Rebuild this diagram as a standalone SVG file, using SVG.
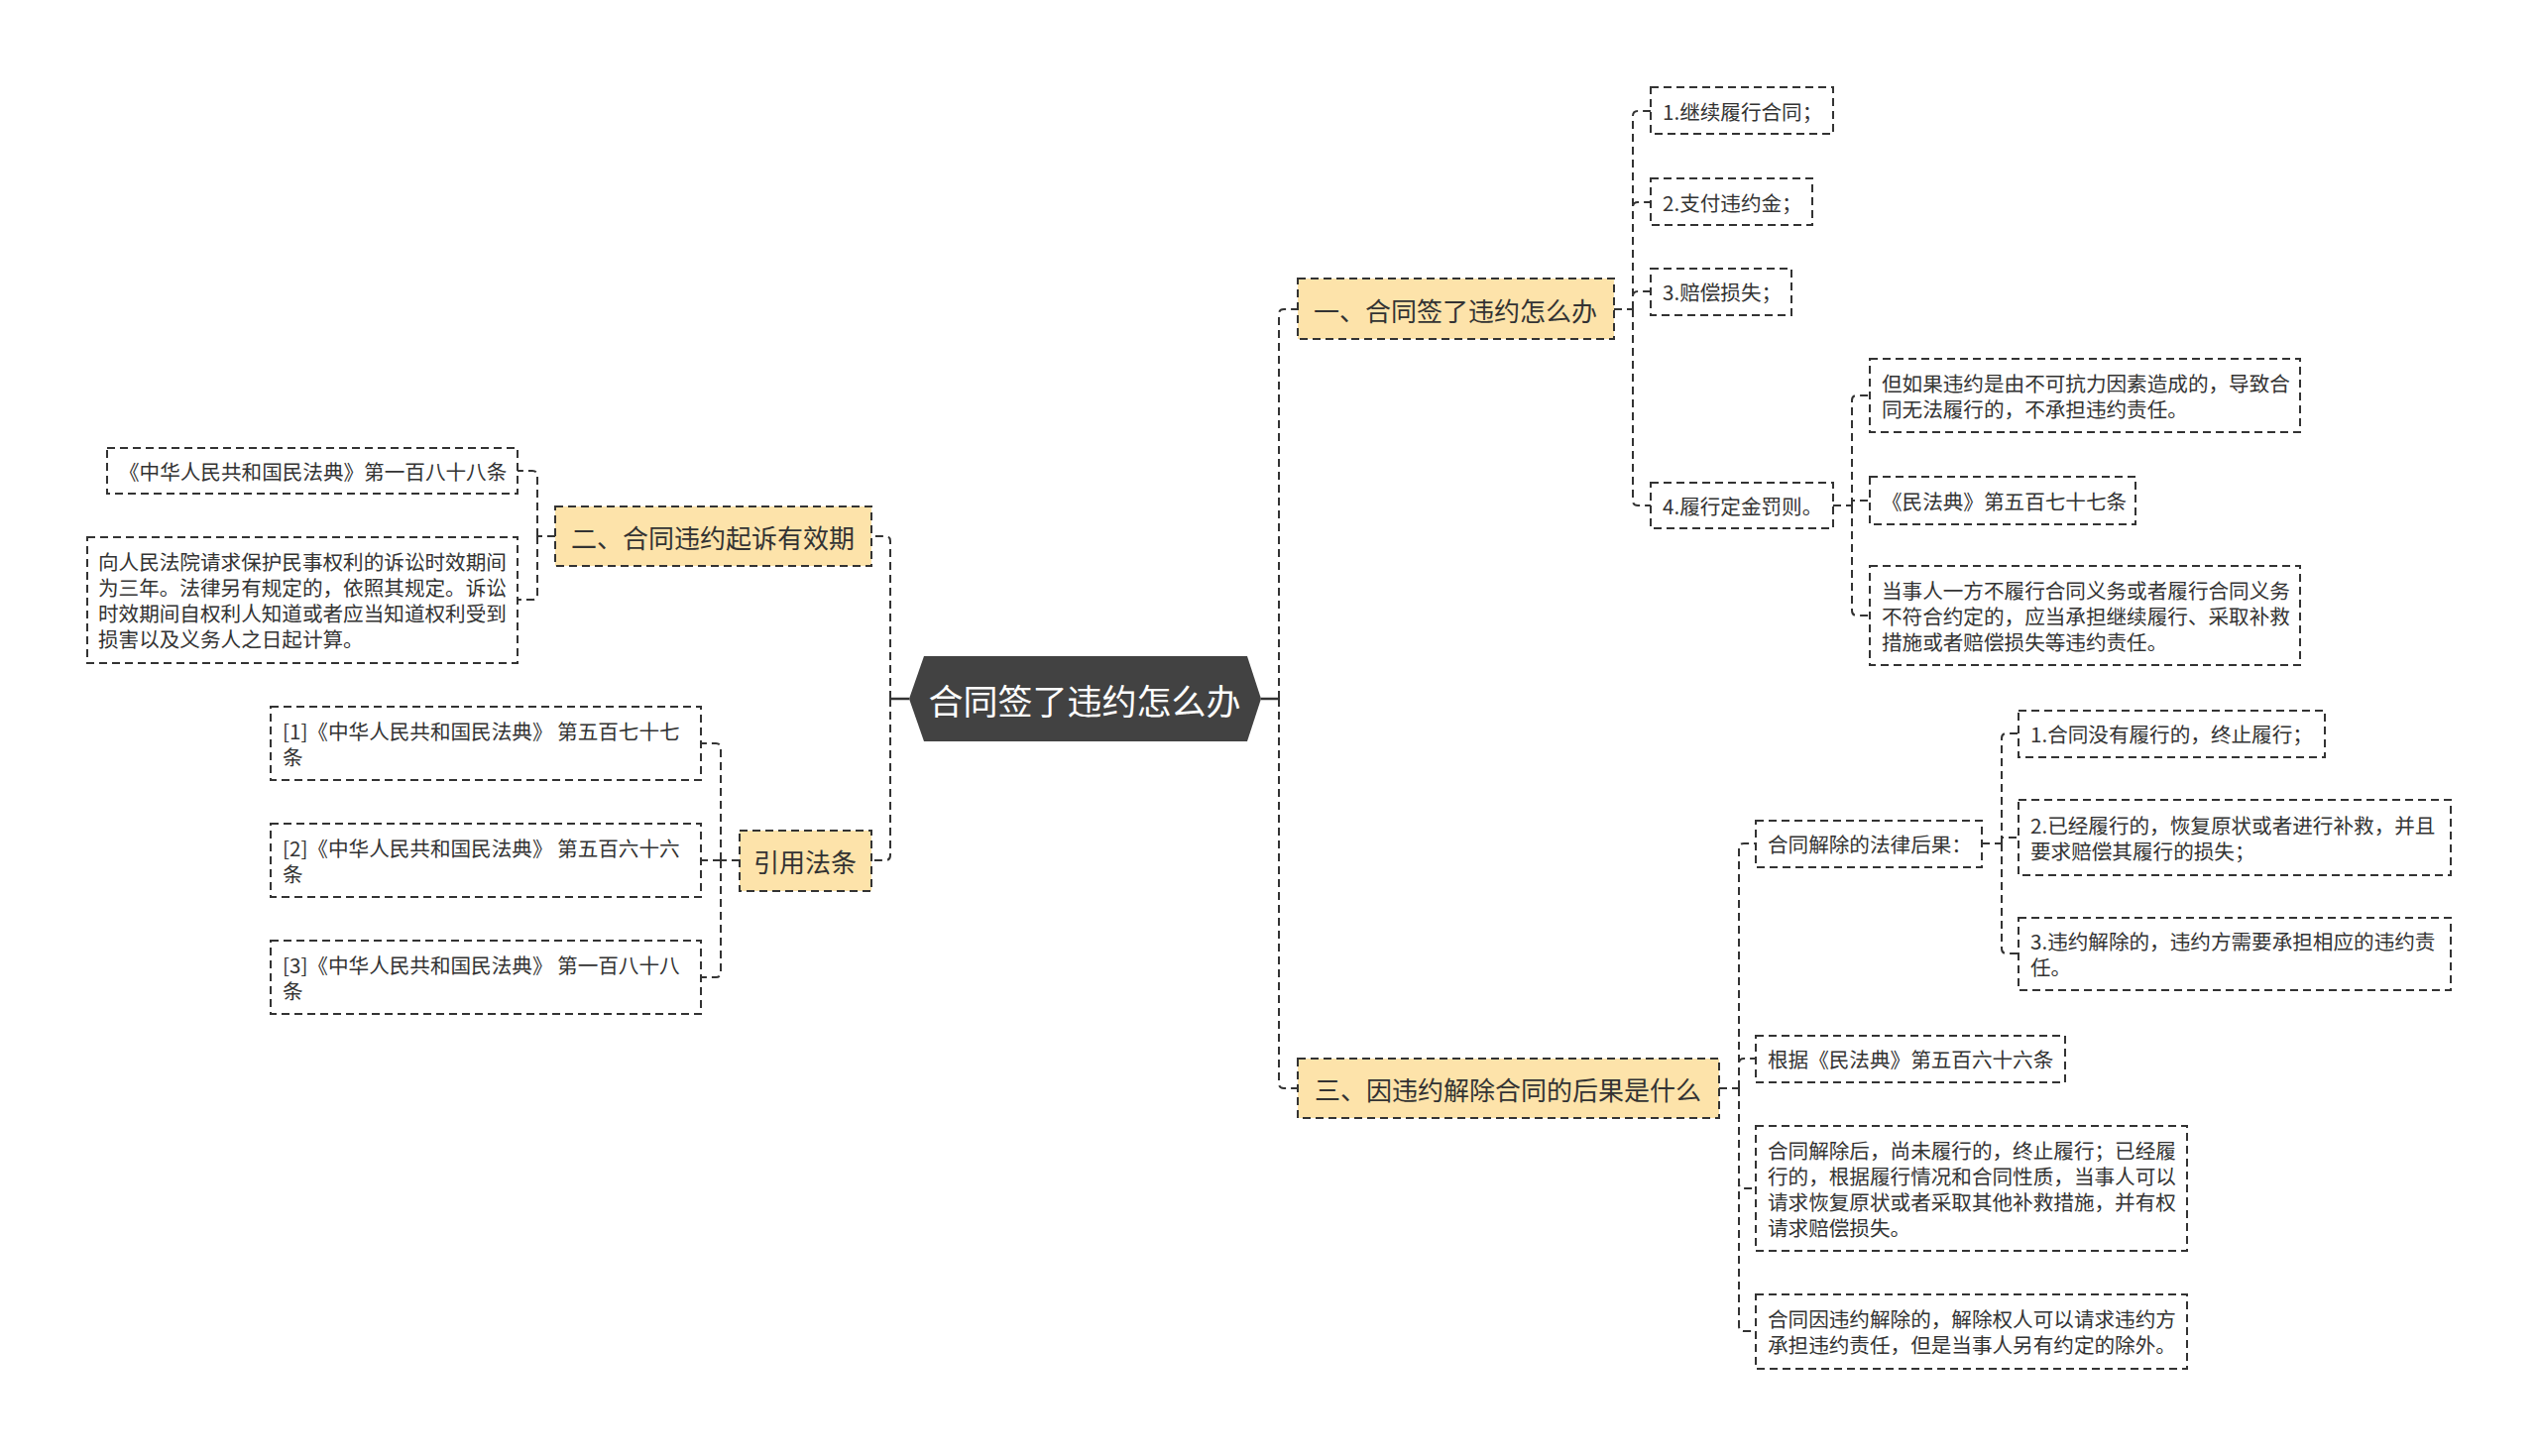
<svg xmlns="http://www.w3.org/2000/svg" width="2560" height="1469" viewBox="0 0 2560 1469">
<style>
.bg{fill:#ffffff}
.leaf{fill:#ffffff;stroke:#333333;stroke-width:2;stroke-dasharray:8 5}
.br{fill:#fde3aa;stroke:#333333;stroke-width:2;stroke-dasharray:8 5}
.root{fill:#424242}
.t{font-family:"Noto Sans CJK SC","Noto Sans",sans-serif;font-size:20.6px;fill:#333333;dominant-baseline:central}
.tb{font-family:"Noto Sans CJK SC","Noto Sans",sans-serif;font-size:26px;fill:#333333;dominant-baseline:central;text-anchor:middle}
.tr{font-family:"Noto Sans CJK SC","Noto Sans",sans-serif;font-size:35px;fill:#ffffff;dominant-baseline:central;text-anchor:middle}
.ln{fill:none;stroke:#333333;stroke-width:2;stroke-dasharray:8 5}
.ls{fill:none;stroke:#333333;stroke-width:2.5}
</style>
<rect class="bg" x="0" y="0" width="2560" height="1469"/>
<g id="connectors">
<path class="ls" d="M917 705 H898 M1272 705 H1290"/>
<path class="ln" d="M898 705 V546 Q898 541 893 541 H879"/>
<path class="ln" d="M898 705 V863 Q898 868 893 868 H879"/>
<path class="ln" d="M1290 705 V317 Q1290 312 1295 312 H1309"/>
<path class="ln" d="M1290 705 V1093 Q1290 1098 1295 1098 H1309"/>
<path class="ln" d="M1628 312 H1647"/>
<path class="ln" d="M1647 312 V117 Q1647 112 1652 112 H1665"/>
<path class="ln" d="M1647 312 V209 Q1647 204 1652 204 H1665"/>
<path class="ln" d="M1647 312 V299 Q1647 294 1652 294 H1665"/>
<path class="ln" d="M1647 312 V505 Q1647 510 1652 510 H1665"/>
<path class="ln" d="M1849 510 H1868"/>
<path class="ln" d="M1868 510 V404 Q1868 399 1873 399 H1886"/>
<path class="ln" d="M1868 510 V505 H1886"/>
<path class="ln" d="M1868 510 V616 Q1868 621 1873 621 H1886"/>
<path class="ln" d="M1734 1098 H1754"/>
<path class="ln" d="M1754 1098 V856 Q1754 851 1759 851 H1771"/>
<path class="ln" d="M1754 1098 V1073 Q1754 1068 1759 1068 H1771"/>
<path class="ln" d="M1754 1098 V1194 Q1754 1199 1759 1199 H1771"/>
<path class="ln" d="M1754 1098 V1338 Q1754 1343 1759 1343 H1771"/>
<path class="ln" d="M1999 851 H2019"/>
<path class="ln" d="M2019 851 V745 Q2019 740 2024 740 H2036"/>
<path class="ln" d="M2019 851 V845 H2036"/>
<path class="ln" d="M2019 851 V957 Q2019 962 2024 962 H2036"/>
<path class="ln" d="M560 541 H542"/>
<path class="ln" d="M542 541 V480 Q542 475 537 475 H522"/>
<path class="ln" d="M542 541 V600 Q542 605 537 605 H522"/>
<path class="ln" d="M746 868 H727"/>
<path class="ln" d="M727 868 V755 Q727 750 722 750 H707"/>
<path class="ln" d="M727 868 H707"/>
<path class="ln" d="M727 868 V981 Q727 986 722 986 H707"/>
</g>
<g id="root">
<polygon class="root" points="917,705 932,662 1258,662 1272,705 1258,748 932,748"/>
<text class="tr" x="1094" y="705">合同签了违约怎么办</text>
</g>
<g id="b1">
<rect class="br" x="1309" y="281" width="319" height="61"/>
<text class="tb" x="1468" y="312">一、合同签了违约怎么办</text>
</g>
<g id="b2">
<rect class="br" x="560" y="511" width="319" height="60"/>
<text class="tb" x="719" y="541">二、合同违约起诉有效期</text>
</g>
<g id="b3">
<rect class="br" x="1309" y="1068" width="425" height="60"/>
<text class="tb" x="1521" y="1098">三、因违约解除合同的后果是什么</text>
</g>
<g id="b4">
<rect class="br" x="746" y="838" width="133" height="61"/>
<text class="tb" x="812" y="868">引用法条</text>
</g>
<g id="n1">
<rect class="leaf" x="1665" y="88" width="184" height="47"/>
<text class="t" x="1677" y="112">1.继续履行合同；</text>
</g>
<g id="n2">
<rect class="leaf" x="1665" y="180" width="163" height="47"/>
<text class="t" x="1677" y="204">2.支付违约金；</text>
</g>
<g id="n3">
<rect class="leaf" x="1665" y="271" width="142" height="47"/>
<text class="t" x="1677" y="294">3.赔偿损失；</text>
</g>
<g id="n4">
<rect class="leaf" x="1665" y="487" width="184" height="46"/>
<text class="t" x="1677" y="510">4.履行定金罚则。</text>
</g>
<g id="n41">
<rect class="leaf" x="1886" y="362" width="434" height="74"/>
<text class="t" x="1898" y="386">但如果违约是由不可抗力因素造成的，导致合</text>
<text class="t" x="1898" y="412">同无法履行的，不承担违约责任。</text>
</g>
<g id="n42">
<rect class="leaf" x="1886" y="481" width="268" height="48"/>
<text class="t" x="1898" y="505">《民法典》第五百七十七条</text>
</g>
<g id="n43">
<rect class="leaf" x="1886" y="571" width="434" height="100"/>
<text class="t" x="1898" y="595">当事人一方不履行合同义务或者履行合同义务</text>
<text class="t" x="1898" y="621">不符合约定的，应当承担继续履行、采取补救</text>
<text class="t" x="1898" y="647">措施或者赔偿损失等违约责任。</text>
</g>
<g id="n31">
<rect class="leaf" x="1771" y="828" width="228" height="47"/>
<text class="t" x="1783" y="851">合同解除的法律后果：</text>
</g>
<g id="n311">
<rect class="leaf" x="2036" y="717" width="309" height="47"/>
<text class="t" x="2048" y="740">1.合同没有履行的，终止履行；</text>
</g>
<g id="n312">
<rect class="leaf" x="2036" y="807" width="436" height="76"/>
<text class="t" x="2048" y="832">2.已经履行的，恢复原状或者进行补救，并且</text>
<text class="t" x="2048" y="858">要求赔偿其履行的损失；</text>
</g>
<g id="n313">
<rect class="leaf" x="2036" y="926" width="436" height="73"/>
<text class="t" x="2048" y="949">3.违约解除的，违约方需要承担相应的违约责</text>
<text class="t" x="2048" y="975">任。</text>
</g>
<g id="n32">
<rect class="leaf" x="1771" y="1045" width="312" height="47"/>
<text class="t" x="1783" y="1068">根据《民法典》第五百六十六条</text>
</g>
<g id="n33">
<rect class="leaf" x="1771" y="1136" width="435" height="126"/>
<text class="t" x="1783" y="1160">合同解除后，尚未履行的，终止履行；已经履</text>
<text class="t" x="1783" y="1186">行的，根据履行情况和合同性质，当事人可以</text>
<text class="t" x="1783" y="1212">请求恢复原状或者采取其他补救措施，并有权</text>
<text class="t" x="1783" y="1238">请求赔偿损失。</text>
</g>
<g id="n34">
<rect class="leaf" x="1771" y="1306" width="435" height="75"/>
<text class="t" x="1783" y="1330">合同因违约解除的，解除权人可以请求违约方</text>
<text class="t" x="1783" y="1356">承担违约责任，但是当事人另有约定的除外。</text>
</g>
<g id="n21">
<rect class="leaf" x="108" y="452" width="414" height="46"/>
<text class="t" x="120" y="475">《中华人民共和国民法典》第一百八十八条</text>
</g>
<g id="n22">
<rect class="leaf" x="88" y="542" width="434" height="127"/>
<text class="t" x="99" y="566">向人民法院请求保护民事权利的诉讼时效期间</text>
<text class="t" x="99" y="592">为三年。法律另有规定的，依照其规定。诉讼</text>
<text class="t" x="99" y="618">时效期间自权利人知道或者应当知道权利受到</text>
<text class="t" x="99" y="644">损害以及义务人之日起计算。</text>
</g>
<g id="n51">
<rect class="leaf" x="273" y="713" width="434" height="74"/>
<text class="t" x="285" y="737">[1]《中华人民共和国民法典》 第五百七十七</text>
<text class="t" x="285" y="763">条</text>
</g>
<g id="n52">
<rect class="leaf" x="273" y="831" width="434" height="74"/>
<text class="t" x="285" y="855">[2]《中华人民共和国民法典》 第五百六十六</text>
<text class="t" x="285" y="881">条</text>
</g>
<g id="n53">
<rect class="leaf" x="273" y="949" width="434" height="74"/>
<text class="t" x="285" y="973">[3]《中华人民共和国民法典》 第一百八十八</text>
<text class="t" x="285" y="999">条</text>
</g>
</svg>
